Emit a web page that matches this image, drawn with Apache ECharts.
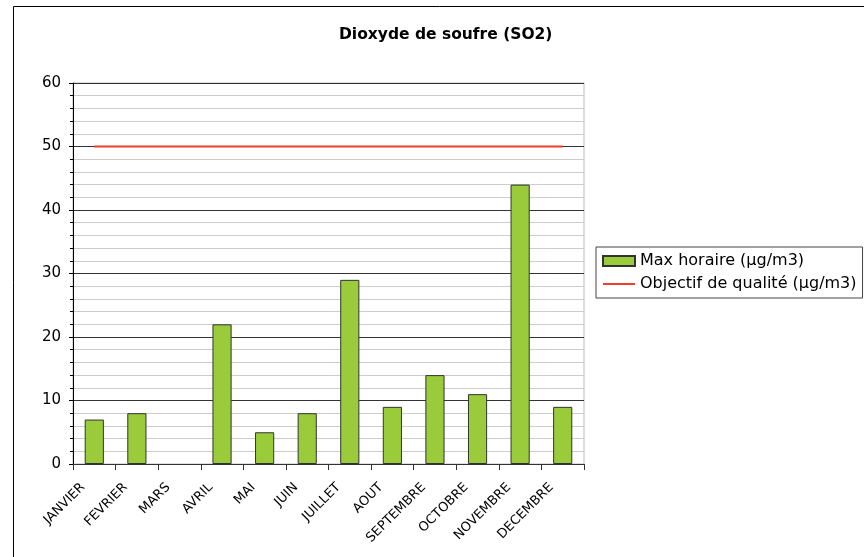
<!DOCTYPE html>
<html>
<head>
<meta charset="utf-8">
<script src="https://cdn.jsdelivr.net/npm/echarts@6/dist/echarts.min.js"></script>
<style>
  html, body { margin: 0; padding: 0; background: #fff; }
  #chart { width: 864px; height: 557px; }
</style>
</head>
<body>
<div id="chart"></div>
<script>
// données
var mois = ['JANVIER', 'FEVRIER', 'MARS', 'AVRIL', 'MAI', 'JUIN', 'JUILLET', 'AOUT', 'SEPTEMBRE', 'OCTOBRE', 'NOVEMBRE', 'DECEMBRE'];
var maxHoraire = [7, 8, '-', 22, 5, 8, 29, 9, 14, 11, 44, 9];
var objectif = [50, 50, 50, 50, 50, 50, 50, 50, 50, 50, 50, 50];
var nomBar = 'Max horaire (µg/m3)';
var nomLigne = 'Objectif de qualité (µg/m3)';

var myChart = echarts.init(document.getElementById('chart'));
var option = {
    backgroundColor: '#fff',
    animation: false,
    textStyle: { fontFamily: 'DejaVu Sans' },
    title: {
        text: 'Dioxyde de soufre (SO2)',
        left: 334,
        top: 22,
        textStyle: { fontSize: 15.5, fontWeight: 'bold', color: '#000' }
    },
    graphic: [{
        type: 'rect',
        shape: { x: 13.5, y: 6.5, width: 900, height: 600 },
        style: { fill: 'none', stroke: '#000', lineWidth: 1 }
    }],
    legend: {
        orient: 'vertical',
        left: 596,
        top: 247,
        padding: [6, 6, 6, 6],
        itemGap: 7,
        itemWidth: 32,
        itemHeight: 10,
        borderColor: '#444',
        borderWidth: 1,
        textStyle: { fontSize: 16, color: '#000', padding: [0, 0, 0, 0] },
        data: [
            { name: nomBar, icon: 'rect' },
            { name: nomLigne, icon: 'path://M0,0 H32 V2 H0 Z', itemStyle: { color: '#f03c2a' } }
        ]
    },
    grid: {
        left: 73, right: 280, top: 83, bottom: 93,
        show: true, borderColor: '#bbb', borderWidth: 1,
        containLabel: false
    },
    xAxis: {
        type: 'category',
        data: mois,
        axisLine: { lineStyle: { color: '#333', width: 1 } },
        axisTick: { show: true, length: 6, lineStyle: { color: '#333' } },
        axisLabel: { rotate: 45, fontSize: 13, color: '#000', margin: 10, interval: 0, padding: [0, 16, 0, 0] }
    },
    yAxis: {
        type: 'value',
        min: 0, max: 60, interval: 10,
        axisLine: { show: true, lineStyle: { color: '#000', width: 1 } },
        axisTick: { show: true, length: 4, lineStyle: { color: '#000' } },
        minorTick: { show: true, splitNumber: 5, length: 3, lineStyle: { color: '#000' } },
        axisLabel: { fontSize: 15, color: '#000', margin: 12 },
        splitLine: { show: true, lineStyle: { color: '#333', width: 1 } },
        minorSplitLine: { show: true, lineStyle: { color: '#ccc', width: 1 } }
    },
    series: [
        {
            name: nomBar,
            type: 'bar',
            data: maxHoraire,
            barWidth: '45%',
            itemStyle: { color: '#9acb3b', borderColor: '#333', borderWidth: 1 }
        },
        {
            name: nomLigne,
            type: 'line',
            data: objectif,
            symbol: 'none',
            lineStyle: { color: '#f03c2a', width: 2 },
            itemStyle: { color: '#f03c2a' }
        }
    ]
};
myChart.setOption(option);
</script>
</body>
</html>
